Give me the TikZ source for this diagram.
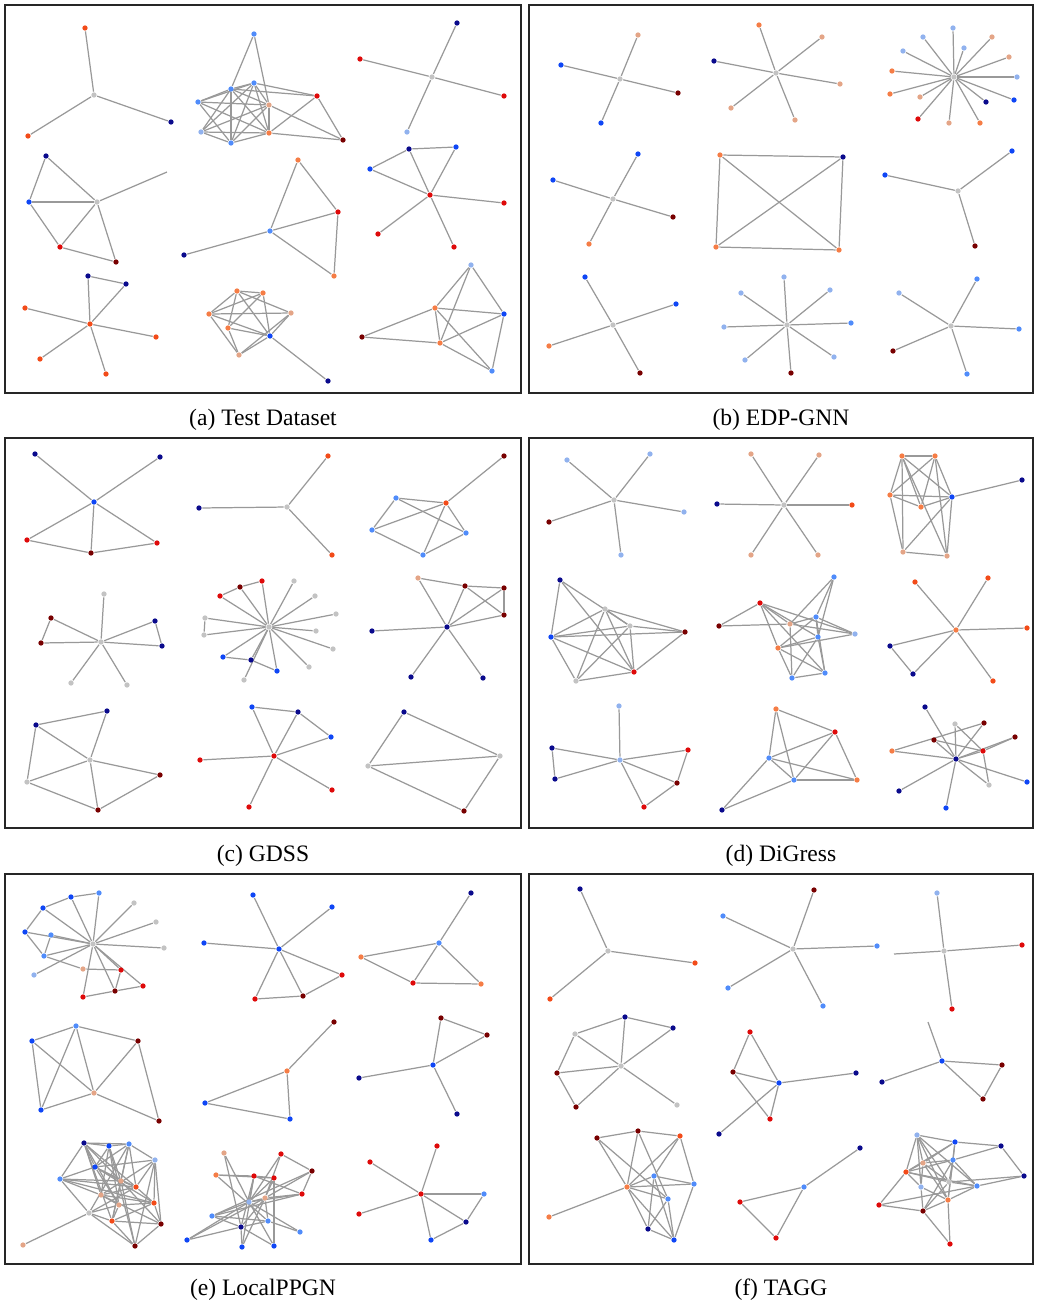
\documentclass[tikz,border=0pt]{standalone}
\usepackage{fontspec}
\setmainfont{Liberation Serif}
\usetikzlibrary{backgrounds}
\definecolor{cnavy}{RGB}{10, 10, 140}
\definecolor{cblu}{RGB}{15, 70, 245}
\definecolor{cmblu}{RGB}{80, 140, 250}
\definecolor{clblu}{RGB}{145, 178, 238}
\definecolor{cgry}{RGB}{195, 195, 195}
\definecolor{cpch}{RGB}{228, 165, 135}
\definecolor{corn}{RGB}{245, 125, 70}
\definecolor{crorn}{RGB}{242, 75, 25}
\definecolor{cred}{RGB}{222, 10, 10}
\definecolor{cdred}{RGB}{120, 0, 0}

\begin{document}
\begin{tikzpicture}[x=0.01cm, y=-0.01cm,
  dot/.style={circle, fill=c#1, inner sep=0pt, minimum size=1.5pt},
  edge/.style={draw=black!40, line width=0.35pt},
  frame/.style={draw=black!85, line width=0.7pt},
  caption/.style={font=\fontsize{6.7}{8}\selectfont}]
  \useasboundingbox (0,0) rectangle (1037,1305);

  % panel frames and captions
  \draw[frame] (5,5) rectangle (521,393);
  \draw[frame] (529,5) rectangle (1033,393);
  \draw[frame] (5,438) rectangle (521,828);
  \draw[frame] (529,438) rectangle (1033,828);
  \draw[frame] (5,874) rectangle (521,1264);
  \draw[frame] (529,874) rectangle (1033,1264);
  \node[caption] (capa) at (263,420) {(a) Test Dataset};
  \node[caption] (capb) at (781,420) {(b) EDP-GNN};
  \node[caption] (capc) at (263,856) {(c) GDSS};
  \node[caption] (capd) at (781,856) {(d) DiGress};
  \node[caption] (cape) at (263,1290) {(e) LocalPPGN};
  \node[caption] (capf) at (781,1290) {(f) TAGG};

  % (a) Test Dataset
  \foreach \n/\c/\x/\y in {a1h/gry/94/95, a1a/rorn/85/28, a1b/rorn/28/136, a1c/navy/171/122,
    a2a/mblu/254/34, a2b/mblu/254/83, a2c/mblu/231/89, a2d/mblu/198/102, a2e/lblu/201/132,
    a2f/mblu/231/143, a2g/pch/269/105, a2h/orn/269/133, a2i/red/317/96, a2j/dred/343/140,
    a3h/gry/432/77, a3a/navy/457/23, a3b/red/360/59, a3c/red/504/96, a3d/lblu/407/132,
    a4h/gry/97/202, a4a/navy/46/156, a4b/blu/29/202, a4c/red/60/247, a4d/dred/116/262,
    a5a/orn/298/160, a5b/red/338/212, a5c/mblu/270/231, a5d/navy/184/255, a5e/orn/334/276,
    a6h/red/430/195, a6a/navy/409/149, a6b/blu/456/147, a6c/blu/370/169, a6d/red/504/203,
    a6e/red/378/234, a6f/red/454/247,
    a7h/rorn/90/324, a7a/navy/88/276, a7b/navy/126/284, a7c/rorn/25/308, a7d/rorn/156/337,
    a7e/rorn/40/359, a7f/rorn/106/374,
    a8a/orn/237/291, a8b/orn/263/293, a8c/pch/291/313, a8d/orn/209/314, a8e/orn/228/328,
    a8f/blu/270/336, a8g/pch/239/355, a8h/navy/328/381,
    a9a/lblu/471/265, a9b/orn/435/308, a9c/blu/504/314, a9d/dred/362/337, a9e/orn/440/343,
    a9f/mblu/492/371}
    \node[dot=\c] (\n) at (\x,\y) {};
  \coordinate (a4x) at (167,172);
  \begin{scope}[on background layer]
    \foreach \u/\v in {a1h/a1a, a1h/a1b, a1h/a1c,
      a2a/a2c, a2a/a2g, a2b/a2c, a2b/a2d, a2b/a2e, a2b/a2f, a2b/a2g, a2b/a2h, a2c/a2d,
      a2c/a2e, a2c/a2f, a2c/a2g, a2c/a2h, a2d/a2f, a2d/a2g, a2d/a2h, a2e/a2f, a2e/a2g,
      a2e/a2h, a2f/a2g, a2f/a2h, a2g/a2h, a2b/a2i, a2c/a2i, a2h/a2i, a2i/a2j, a2g/a2j, a2h/a2j,
      a3h/a3a, a3h/a3b, a3h/a3c, a3h/a3d,
      a4a/a4b, a4a/a4h, a4b/a4h, a4b/a4c, a4c/a4h, a4c/a4d, a4h/a4d, a4h/a4x,
      a5a/a5c, a5a/a5b, a5c/a5b, a5c/a5d, a5c/a5e, a5b/a5e,
      a6a/a6b, a6a/a6c, a6a/a6h, a6b/a6h, a6c/a6h, a6h/a6d, a6h/a6e, a6h/a6f,
      a7a/a7b, a7a/a7h, a7b/a7h, a7h/a7c, a7h/a7d, a7h/a7e, a7h/a7f,
      a8a/a8b, a8a/a8c, a8a/a8d, a8a/a8e, a8a/a8f, a8b/a8d, a8b/a8e, a8b/a8f, a8c/a8d,
      a8c/a8f, a8c/a8g, a8d/a8f, a8d/a8g, a8e/a8f, a8e/a8g, a8f/a8g, a8f/a8h,
      a9a/a9b, a9a/a9c, a9a/a9e, a9b/a9c, a9b/a9d, a9b/a9e, a9b/a9f, a9d/a9e, a9e/a9c,
      a9c/a9f, a9e/a9f}
      \draw[edge] (\u) -- (\v);
  \end{scope}

  % (b) EDP-GNN
  \foreach \n/\c/\x/\y in {b1h/gry/620/79, b1a/pch/638/35, b1b/blu/561/65, b1c/dred/678/93,
    b1d/blu/601/123,
    b2h/gry/776/73, b2a/orn/759/25, b2b/pch/822/37, b2c/navy/714/61, b2d/pch/840/84,
    b2e/pch/731/108, b2f/pch/795/120,
    b3h/gry/954/77, b3a/lblu/953/28, b3b/lblu/923/37, b3c/lblu/964/48, b3d/pch/992/37,
    b3e/lblu/903/51, b3f/pch/1009/57, b3g/orn/892/71, b3i/lblu/1017/77, b3j/orn/890/94,
    b3k/pch/920/97, b3l/navy/986/102, b3m/blu/1014/100, b3n/red/918/119, b3o/pch/949/123,
    b3p/orn/980/123,
    b4h/gry/613/199, b4a/blu/638/154, b4b/blu/553/180, b4c/dred/673/217, b4d/orn/589/244,
    b5a/orn/720/155, b5b/navy/843/157, b5c/orn/716/247, b5d/orn/839/250,
    b6h/gry/958/191, b6a/blu/885/175, b6b/blu/1012/151, b6c/dred/975/246,
    b7h/gry/613/325, b7a/blu/585/277, b7b/blu/676/304, b7c/orn/549/346, b7d/dred/640/373,
    b8h/gry/787/325, b8a/lblu/784/277, b8b/lblu/741/293, b8c/lblu/830/290, b8d/lblu/724/327,
    b8e/mblu/851/323, b8f/lblu/745/360, b8g/lblu/834/357, b8i/dred/791/373,
    b9h/gry/951/326, b9a/lblu/899/293, b9b/mblu/977/279, b9c/mblu/1019/329,
    b9d/dred/893/351, b9e/mblu/967/374}
    \node[dot=\c] (\n) at (\x,\y) {};
  \begin{scope}[on background layer]
    \foreach \u/\v in {b1h/b1a, b1h/b1b, b1h/b1c, b1h/b1d,
      b2h/b2a, b2h/b2b, b2h/b2c, b2h/b2d, b2h/b2e, b2h/b2f,
      b3h/b3a, b3h/b3b, b3h/b3c, b3h/b3d, b3h/b3e, b3h/b3f, b3h/b3g, b3h/b3i, b3h/b3j,
      b3h/b3k, b3h/b3l, b3h/b3m, b3h/b3n, b3h/b3o, b3h/b3p,
      b4h/b4a, b4h/b4b, b4h/b4c, b4h/b4d,
      b5a/b5b, b5a/b5c, b5a/b5d, b5b/b5c, b5b/b5d, b5c/b5d,
      b6h/b6a, b6h/b6b, b6h/b6c,
      b7h/b7a, b7h/b7b, b7h/b7c, b7h/b7d,
      b8h/b8a, b8h/b8b, b8h/b8c, b8h/b8d, b8h/b8e, b8h/b8f, b8h/b8g, b8h/b8i,
      b9h/b9a, b9h/b9b, b9h/b9c, b9h/b9d, b9h/b9e}
      \draw[edge] (\u) -- (\v);
  \end{scope}

  % (c) GDSS
  \foreach \n/\c/\x/\y in {c1h/blu/94/502, c1a/navy/35/454, c1b/navy/160/457, c1c/red/27/540,
    c1d/dred/91/553, c1e/red/157/543,
    c2h/gry/287/507, c2a/navy/199/508, c2b/rorn/328/456, c2c/rorn/332/555,
    c3a/rorn/446/503, c3b/dred/504/456, c3c/mblu/396/498, c3d/mblu/372/530,
    c3e/mblu/466/533, c3f/mblu/423/555,
    c4h/gry/101/642, c4a/gry/104/594, c4b/dred/51/618, c4c/dred/41/643, c4d/navy/155/621,
    c4e/navy/162/646, c4f/gry/71/683, c4g/gry/127/685,
    c5h/gry/269/627, c5a/dred/240/587, c5b/red/262/581, c5c/red/220/596, c5d/gry/294/581,
    c5e/gry/315/596, c5f/gry/336/614, c5g/gry/205/618, c5i/gry/204/635, c5j/gry/316/631,
    c5k/gry/333/649, c5l/gry/309/667, c5m/blu/223/657, c5n/navy/251/660, c5o/blu/277/671,
    c5p/gry/244/680,
    c6h/navy/447/627, c6a/pch/418/578, c6b/dred/465/586, c6c/dred/504/588,
    c6d/dred/504/615, c6e/navy/372/631, c6f/navy/411/677, c6g/navy/483/678,
    c7h/gry/90/760, c7a/navy/36/725, c7b/navy/107/711, c7c/gry/27/782, c7d/dred/160/775,
    c7e/dred/98/810,
    c8h/red/274/756, c8a/blu/252/707, c8b/navy/298/712, c8c/blu/331/737, c8d/red/200/760,
    c8e/red/332/790, c8f/red/249/807,
    c9a/navy/404/712, c9b/gry/500/756, c9c/gry/368/766, c9d/dred/464/811}
    \node[dot=\c] (\n) at (\x,\y) {};
  \begin{scope}[on background layer]
    \foreach \u/\v in {c1h/c1a, c1h/c1b, c1h/c1c, c1h/c1d, c1h/c1e, c1c/c1d, c1d/c1e,
      c2h/c2a, c2h/c2b, c2h/c2c,
      c3a/c3b, c3c/c3a, c3c/c3d, c3c/c3e, c3d/c3a, c3d/c3f, c3a/c3e, c3a/c3f, c3f/c3e,
      c4h/c4a, c4h/c4b, c4h/c4c, c4h/c4d, c4h/c4e, c4h/c4f, c4h/c4g, c4b/c4c, c4d/c4e,
      c5h/c5a, c5h/c5b, c5h/c5c, c5h/c5d, c5h/c5e, c5h/c5f, c5h/c5g, c5h/c5i, c5h/c5j,
      c5h/c5k, c5h/c5l, c5h/c5m, c5h/c5n, c5h/c5o, c5h/c5p, c5c/c5a, c5a/c5b, c5g/c5i,
      c5m/c5n, c5n/c5o,
      c6a/c6b, c6a/c6h, c6b/c6c, c6b/c6d, c6b/c6h, c6c/c6d, c6c/c6h, c6d/c6h, c6h/c6e,
      c6h/c6f, c6h/c6g,
      c7a/c7b, c7a/c7h, c7a/c7c, c7b/c7h, c7h/c7c, c7h/c7d, c7h/c7e, c7c/c7e, c7e/c7d,
      c8a/c8b, c8a/c8h, c8b/c8h, c8b/c8c, c8c/c8h, c8h/c8d, c8h/c8e, c8h/c8f,
      c9a/c9b, c9a/c9c, c9c/c9b, c9c/c9d, c9b/c9d}
      \draw[edge] (\u) -- (\v);
  \end{scope}

  % (d) DiGress
  \foreach \n/\c/\x/\y in {d1h/gry/614/500, d1a/lblu/567/460, d1b/lblu/650/454,
    d1c/dred/549/522, d1d/lblu/684/512, d1e/lblu/621/555,
    d2h/gry/784/505, d2a/pch/751/454, d2b/pch/819/455, d2c/navy/717/504, d2d/rorn/852/505,
    d2e/pch/751/555, d2f/pch/818/555,
    d3a/orn/902/456, d3b/orn/935/456, d3c/orn/890/495, d3d/orn/921/507, d3e/blu/952/497,
    d3f/navy/1022/480, d3g/pch/903/552, d3i/pch/947/556,
    d4a/navy/560/580, d4b/blu/551/637, d4c/gry/605/609, d4d/gry/630/626, d4e/dred/685/632,
    d4f/red/634/672, d4g/gry/576/681,
    d5a/dred/719/626, d5b/red/760/603, d5c/pch/790/624, d5d/orn/778/648, d5e/mblu/816/617,
    d5f/mblu/818/637, d5g/mblu/834/577, d5i/lblu/855/634, d5j/mblu/792/678, d5k/mblu/825/673,
    d6h/orn/956/630, d6a/rorn/915/582, d6b/rorn/988/578, d6c/rorn/1027/628,
    d6d/navy/890/646, d6e/navy/913/674, d6f/rorn/993/681,
    d7h/lblu/620/760, d7a/lblu/619/706, d7b/navy/552/748, d7c/navy/555/779,
    d7d/red/688/750, d7e/dred/677/783, d7f/red/644/807,
    d8a/orn/776/709, d8b/red/835/732, d8c/mblu/769/758, d8d/mblu/794/780, d8e/orn/857/780,
    d8f/navy/722/810,
    d9h/navy/956/759, d9a/navy/925/707, d9b/gry/955/724, d9c/dred/984/723, d9d/dred/934/740,
    d9e/dred/1015/737, d9f/orn/892/751, d9g/red/983/751, d9i/gry/989/785, d9j/navy/899/791,
    d9k/blu/1027/782, d9l/blu/946/808}
    \node[dot=\c] (\n) at (\x,\y) {};
  \begin{scope}[on background layer]
    \foreach \u/\v in {d1h/d1a, d1h/d1b, d1h/d1c, d1h/d1d, d1h/d1e,
      d2h/d2a, d2h/d2b, d2h/d2c, d2h/d2d, d2h/d2e, d2h/d2f,
      d3a/d3b, d3a/d3c, d3a/d3d, d3a/d3e, d3a/d3g, d3a/d3i, d3b/d3c, d3b/d3d, d3b/d3e,
      d3b/d3i, d3c/d3e, d3c/d3g, d3c/d3d, d3d/d3e, d3e/d3f, d3e/d3g, d3e/d3i, d3g/d3i,
      d4a/d4b, d4a/d4d, d4a/d4f, d4b/d4c, d4b/d4d, d4b/d4e, d4b/d4f, d4b/d4g, d4c/d4e,
      d4c/d4f, d4c/d4g, d4c/d4d, d4d/d4f, d4d/d4g, d4d/d4e, d4e/d4f, d4f/d4g,
      d5a/d5b, d5a/d5c, d5b/d5c, d5b/d5d, d5b/d5f, d5b/d5i, d5b/d5k, d5c/d5e, d5c/d5g,
      d5c/d5j, d5c/d5i, d5d/d5e, d5d/d5f, d5d/d5i, d5d/d5j, d5d/d5k, d5e/d5g, d5e/d5f,
      d5e/d5i, d5e/d5k, d5f/d5g, d5f/d5j, d5f/d5k, d5j/d5k,
      d6h/d6a, d6h/d6b, d6h/d6c, d6h/d6d, d6h/d6e, d6h/d6f, d6d/d6e,
      d7h/d7a, d7h/d7b, d7h/d7c, d7h/d7d, d7h/d7e, d7h/d7f, d7b/d7c, d7d/d7e, d7e/d7f,
      d8a/d8b, d8a/d8c, d8a/d8d, d8b/d8c, d8b/d8d, d8b/d8e, d8c/d8d, d8c/d8e, d8c/d8f,
      d8d/d8e, d8d/d8f,
      d9h/d9a, d9h/d9b, d9h/d9c, d9h/d9d, d9h/d9e, d9h/d9g, d9h/d9i, d9h/d9j, d9h/d9k,
      d9h/d9l, d9h/d9f, d9b/d9g, d9d/d9g, d9f/d9c, d9g/d9e, d9g/d9i}
      \draw[edge] (\u) -- (\v);
  \end{scope}

  % (e) LocalPPGN
  \foreach \n/\c/\x/\y in {e1h/gry/93/944, e1a/blu/71/897, e1b/mblu/99/893, e1c/blu/43/908,
    e1d/blu/25/932, e1e/mblu/51/935, e1f/gry/134/903, e1g/gry/156/922, e1i/gry/164/948,
    e1j/mblu/44/956, e1k/lblu/34/975, e1l/pch/83/969, e1m/red/121/970, e1n/red/143/986,
    e1o/dred/115/991, e1p/red/83/997,
    e2h/blu/279/949, e2a/blu/253/895, e2b/blu/332/907, e2c/blu/204/943, e2d/red/342/975,
    e2e/dred/303/996, e2f/red/255/999,
    e3a/mblu/439/943, e3b/navy/471/893, e3c/orn/361/957, e3d/red/413/983, e3e/orn/481/984,
    e4a/mblu/76/1026, e4b/blu/32/1041, e4c/dred/138/1041, e4d/pch/94/1093,
    e4e/blu/41/1110, e4f/dred/159/1121,
    e5a/dred/334/1022, e5b/orn/287/1071, e5c/blu/205/1103, e5d/blu/290/1119,
    e6h/blu/433/1065, e6a/dred/441/1018, e6b/dred/487/1035, e6c/navy/359/1078,
    e6d/navy/457/1114,
    e7a/navy/84/1143, e7b/blu/109/1146, e7c/mblu/129/1144, e7d/lblu/155/1160,
    e7e/blu/95/1167, e7f/mblu/60/1179, e7g/pch/121/1181, e7i/rorn/136/1187,
    e7j/pch/101/1195, e7k/pch/119/1205, e7l/rorn/154/1203, e7m/gry/89/1213,
    e7n/rorn/112/1221, e7o/dred/161/1224, e7p/dred/135/1246, e7q/pch/23/1245,
    e8a/pch/224/1153, e8b/red/281/1154, e8c/dred/312/1171, e8d/orn/216/1175,
    e8e/red/254/1176, e8f/red/274/1178, e8g/red/302/1194, e8i/lblu/249/1202,
    e8j/pch/265/1198, e8k/mblu/212/1216, e8l/mblu/268/1221, e8m/navy/241/1227,
    e8n/mblu/300/1232, e8o/blu/187/1240, e8p/blu/242/1247, e8q/blu/274/1246,
    e9h/red/421/1194, e9a/red/437/1146, e9b/red/370/1162, e9c/red/359/1214,
    e9d/mblu/484/1194, e9e/navy/466/1222, e9f/blu/431/1240}
    \node[dot=\c] (\n) at (\x,\y) {};
  \begin{scope}[on background layer]
    \foreach \u/\v in {e1h/e1a, e1h/e1b, e1h/e1c, e1h/e1d, e1h/e1e, e1h/e1f, e1h/e1g,
      e1h/e1i, e1h/e1j, e1h/e1k, e1h/e1m, e1h/e1n, e1h/e1o, e1h/e1p, e1a/e1b, e1a/e1c,
      e1c/e1d, e1d/e1j, e1e/e1j, e1j/e1l, e1l/e1m, e1m/e1o, e1o/e1p, e1o/e1n,
      e2h/e2a, e2h/e2b, e2h/e2c, e2h/e2d, e2h/e2e, e2h/e2f, e2d/e2e, e2e/e2f,
      e3a/e3b, e3a/e3c, e3a/e3d, e3a/e3e, e3c/e3d, e3d/e3e,
      e4a/e4b, e4a/e4c, e4a/e4e, e4a/e4d, e4b/e4e, e4b/e4d, e4c/e4d, e4c/e4f, e4d/e4e, e4d/e4f,
      e5a/e5b, e5b/e5c, e5b/e5d, e5c/e5d,
      e6h/e6a, e6a/e6b, e6h/e6b, e6h/e6c, e6h/e6d,
      e7a/e7b, e7a/e7c, e7a/e7f, e7a/e7e, e7a/e7g, e7a/e7j, e7a/e7k, e7a/e7n, e7a/e7i,
      e7b/e7c, e7b/e7e, e7b/e7g, e7b/e7k, e7b/e7j, e7b/e7p, e7c/e7d, e7c/e7e, e7c/e7g,
      e7c/e7i, e7c/e7m, e7c/e7n, e7d/e7e, e7d/e7i, e7d/e7l, e7d/e7o, e7d/e7j, e7d/e7p,
      e7e/e7f, e7e/e7g, e7e/e7i, e7e/e7k, e7e/e7l, e7f/e7g, e7f/e7j, e7f/e7i, e7f/e7m,
      e7g/e7i, e7g/e7n, e7g/e7o, e7g/e7p, e7i/e7j, e7i/e7m, e7i/e7l, e7j/e7l, e7j/e7k,
      e7j/e7o, e7k/e7l, e7k/e7m, e7k/e7n, e7l/e7o, e7l/e7n, e7m/e7n, e7m/e7p, e7n/e7o,
      e7n/e7p, e7o/e7p, e7m/e7q, e7f/e7l,
      e8a/e8i, e8a/e8m, e8b/e8c, e8b/e8j, e8b/e8i, e8c/e8g, e8c/e8j, e8c/e8k, e8d/e8e,
      e8d/e8f, e8d/e8l, e8e/e8f, e8e/e8i, e8e/e8p, e8e/e8m, e8f/e8j, e8f/e8i, e8f/e8q,
      e8g/e8i, e8g/e8j, e8g/e8k, e8i/e8j, e8i/e8k, e8i/e8o, e8i/e8q, e8i/e8n, e8j/e8l,
      e8j/e8m, e8j/e8p, e8k/e8l, e8k/e8m, e8l/e8m, e8l/e8n, e8m/e8o, e8m/e8p, e8m/e8q,
      e8j/e8o, e8e/e8g,
      e9h/e9a, e9h/e9b, e9h/e9c, e9h/e9d, e9h/e9e, e9h/e9f, e9d/e9e, e9e/e9f}
      \draw[edge] (\u) -- (\v);
  \end{scope}

  % (f) TAGG
  \foreach \n/\c/\x/\y in {f1h/gry/608/951, f1a/navy/580/889, f1b/rorn/695/963,
    f1c/rorn/550/999,
    f2h/gry/793/949, f2a/dred/814/890, f2b/mblu/723/916, f2c/mblu/877/946,
    f2d/mblu/728/988, f2e/mblu/823/1006,
    f3h/gry/944/951, f3a/lblu/937/893, f3b/red/1022/945, f3c/red/952/1009,
    f4h/gry/621/1066, f4a/navy/625/1017, f4b/navy/673/1028, f4c/gry/575/1034,
    f4d/dred/557/1073, f4e/dred/576/1107, f4f/gry/677/1105,
    f5a/red/750/1032, f5b/dred/733/1072, f5c/blu/779/1083, f5d/navy/856/1073,
    f5e/red/770/1119, f5f/navy/719/1134,
    f6h/blu/942/1061, f6a/dred/1002/1065, f6b/dred/983/1099, f6c/navy/882/1082,
    f7h/orn/627/1187, f7a/dred/597/1138, f7b/dred/638/1131, f7c/rorn/680/1136,
    f7d/mblu/654/1176, f7e/mblu/694/1184, f7f/mblu/668/1199, f7g/navy/648/1229,
    f7i/blu/674/1240, f7j/orn/549/1217,
    f8a/mblu/804/1187, f8b/navy/860/1148, f8c/red/740/1202, f8d/red/776/1238,
    f9a/lblu/917/1135, f9b/blu/955/1142, f9c/navy/1001/1146, f9d/mblu/953/1160,
    f9e/pch/923/1163, f9f/rorn/906/1172, f9g/navy/1024/1176, f9i/gry/949/1182,
    f9j/lblu/921/1187, f9k/mblu/977/1186, f9l/orn/948/1200, f9m/red/879/1205,
    f9n/dred/923/1211, f9o/red/950/1244}
    \node[dot=\c] (\n) at (\x,\y) {};
  \coordinate (f3x) at (894,954);
  \coordinate (f6x) at (928,1022);
  \begin{scope}[on background layer]
    \foreach \u/\v in {f1h/f1a, f1h/f1b, f1h/f1c,
      f2h/f2a, f2h/f2b, f2h/f2c, f2h/f2d, f2h/f2e,
      f3h/f3a, f3h/f3b, f3h/f3c, f3h/f3x,
      f4c/f4a, f4a/f4b, f4a/f4h, f4b/f4h, f4c/f4h, f4c/f4d, f4d/f4h, f4d/f4e, f4e/f4h,
      f4h/f4f,
      f5a/f5b, f5a/f5c, f5b/f5c, f5b/f5e, f5c/f5d, f5c/f5e, f5c/f5f,
      f6h/f6x, f6h/f6a, f6a/f6b, f6h/f6b, f6h/f6c,
      f7a/f7b, f7b/f7c, f7a/f7h, f7a/f7f, f7b/f7h, f7c/f7h, f7c/f7d, f7c/f7e, f7h/f7d,
      f7h/f7e, f7h/f7f, f7h/f7g, f7h/f7i, f7d/f7e, f7d/f7g, f7d/f7i, f7f/f7g, f7f/f7i,
      f7g/f7i, f7h/f7j, f7b/f7f, f7e/f7i,
      f8a/f8b, f8a/f8c, f8a/f8d, f8c/f8d,
      f9a/f9b, f9a/f9e, f9a/f9f, f9a/f9i, f9a/f9k, f9a/f9l, f9a/f9j, f9b/f9c, f9b/f9d,
      f9b/f9f, f9b/f9e, f9b/f9l, f9c/f9d, f9c/f9g, f9d/f9e, f9d/f9f, f9d/f9i, f9d/f9k,
      f9d/f9l, f9d/f9n, f9e/f9f, f9e/f9i, f9e/f9l, f9e/f9j, f9f/f9i, f9f/f9k, f9f/f9m,
      f9f/f9j, f9i/f9k, f9i/f9n, f9i/f9g, f9j/f9n, f9j/f9l, f9k/f9g, f9k/f9l, f9l/f9n,
      f9l/f9o, f9m/f9n, f9m/f9k, f9n/f9o}
      \draw[edge] (\u) -- (\v);
  \end{scope}
\end{tikzpicture}
\end{document}
